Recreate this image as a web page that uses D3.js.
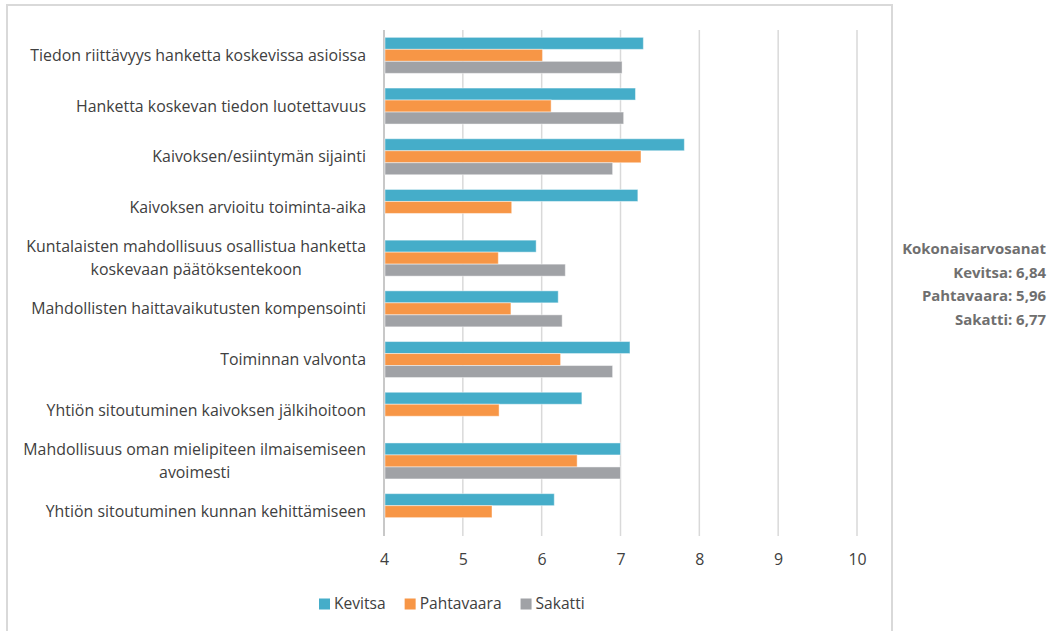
<!DOCTYPE html>
<html><head><meta charset="utf-8">
<script src="https://cdn.jsdelivr.net/npm/d3@7"></script>
<style>body{margin:0;background:#fff;}svg{display:block;}</style>
</head><body>
<svg id="c" width="1051" height="631"></svg>
<script>
const categories = [
  "Tiedon riittävyys hanketta koskevissa asioissa",
  "Hanketta koskevan tiedon luotettavuus",
  "Kaivoksen/esiintymän sijainti",
  "Kaivoksen arvioitu toiminta-aika",
  "Kuntalaisten mahdollisuus osallistua hanketta\nkoskevaan päätöksentekoon",
  "Mahdollisten haittavaikutusten kompensointi",
  "Toiminnan valvonta",
  "Yhtiön sitoutuminen kaivoksen jälkihoitoon",
  "Mahdollisuus oman mielipiteen ilmaisemiseen\navoimesti",
  "Yhtiön sitoutuminen kunnan kehittämiseen"
];
const seriesNames = ["Kevitsa", "Pahtavaara", "Sakatti"];
const kevitsa    = [7.29, 7.19, 7.81, 7.22, 5.93, 6.21, 7.12, 6.51, 7.00, 6.16];
const pahtavaara = [6.01, 6.12, 7.26, 5.62, 5.45, 5.61, 6.24, 5.46, 6.45, 5.37];
const sakatti    = [7.02, 7.04, 6.90, null, 6.30, 6.26, 6.90, null, 7.00, null];
const xTicks = [4, 5, 6, 7, 8, 9, 10];
const summaryTitle = "Kokonaisarvosanat";
const summaryLines = ["Kevitsa: 6,84", "Pahtavaara: 5,96", "Sakatti: 6,77"];
const colors = ["#45adc9", "#f79646", "#a0a2a6"];

(function () {
const values = [kevitsa, pahtavaara, sakatti];
const svg = d3.select("#c");
const font = "'Open Sans', sans-serif";
const textColor = "#404040";

function fitSize(str, targetW, weight) {
  const t = svg.append("text").attr("font-family", font).attr("font-size", 20)
    .attr("font-weight", weight || "normal").text(str);
  const w = t.node().getComputedTextLength();
  t.remove();
  return 20 * targetW / w;
}
const labelSize = fitSize("Tiedon riittävyys hanketta koskevissa asioissa", 336);
const legendSize = fitSize("Pahtavaara", 82);
const sumSize = fitSize("Kokonaisarvosanat", 144, "bold");

// frame
svg.append("path").attr("d", "M7,640 V5 H892 V640")
  .attr("fill", "none").attr("stroke", "#d9d9d9").attr("stroke-width", 2);

const pLeft = 384, pRight = 857, pTop = 30, pBottom = 537;
const x = d3.scaleLinear().domain([4, 10]).range([pLeft, pRight]);
const y = d3.scaleBand().domain(d3.range(categories.length)).range([pTop, pBottom]).paddingInner(0.29).paddingOuter(0.145);
const ySub = d3.scaleBand().domain(d3.range(3)).range([0, y.bandwidth()]);

// gridlines
svg.append("g").selectAll("line").data(xTicks).join("line")
  .attr("x1", d => x(d)).attr("x2", d => x(d))
  .attr("y1", pTop).attr("y2", pBottom - 1)
  .attr("stroke", d => d === 4 ? "#c8c8c8" : "#d9d9d9").attr("stroke-width", d => d === 4 ? 2 : 1.5);

// bars
const g = svg.append("g");
categories.forEach((c, i) => {
  values.forEach((arr, s) => {
    const v = arr[i];
    if (v == null) return;
    g.append("rect")
      .attr("x", x(4) + 1).attr("y", y(i) + ySub(s))
      .attr("width", x(v) - x(4) - 1).attr("height", ySub.bandwidth())
      .attr("fill", colors[s])
      .attr("stroke", "rgba(255,255,255,0.45)").attr("stroke-width", 1);
  });
});

// axis tick labels
const ax = d3.axisBottom(x).tickValues(xTicks).tickSize(0).tickPadding(0).tickFormat(d3.format("d"));
const axG = svg.append("g").attr("transform", `translate(0,${pBottom + 17})`).call(ax);
axG.select(".domain").remove();
axG.selectAll("text").attr("font-family", font).attr("font-size", labelSize).attr("fill", textColor).attr("dy", "0.71em");

// category labels
const labelRight = 366;
categories.forEach((c, i) => {
  const lines = c.split("\n");
  const t = svg.append("text").attr("font-family", font).attr("font-size", labelSize).attr("fill", textColor);
  const cy = y(i) + y.bandwidth() / 2;
  const lh = 22.5;
  lines.forEach((ln, k) => {
    t.append("tspan").text(ln).attr("y", cy + (k - (lines.length - 1) / 2) * lh).attr("dy", "0.35em");
  });
  const widths = [];
  t.selectAll("tspan").each(function() { widths.push(this.getComputedTextLength()); });
  const maxW = d3.max(widths);
  t.attr("text-anchor", "middle");
  t.selectAll("tspan").attr("x", labelRight - maxW / 2);
});

// legend
const legend = svg.append("g");
let lx = 319;
const ly = 604;
seriesNames.forEach((n, s) => {
  legend.append("rect").attr("x", lx).attr("y", ly - 5.5).attr("width", 11).attr("height", 11).attr("fill", colors[s]);
  const t = legend.append("text").attr("x", lx + 15).attr("y", ly).attr("dy", "0.35em")
    .attr("font-family", font).attr("font-size", legendSize).attr("fill", textColor).text(n);
  lx = lx + 15 + t.node().getComputedTextLength() + 19;
});

// summary
const sum = svg.append("text").attr("text-anchor", "end").attr("font-family", font)
  .attr("font-size", sumSize).attr("font-weight", "bold").attr("fill", "#6f6f6f");
[summaryTitle].concat(summaryLines).forEach((ln, k) => {
  sum.append("tspan").attr("x", 1046).attr("y", 249 + k * 23.5).attr("dy", "0.35em").text(ln);
});
})();
</script>
</body></html>
